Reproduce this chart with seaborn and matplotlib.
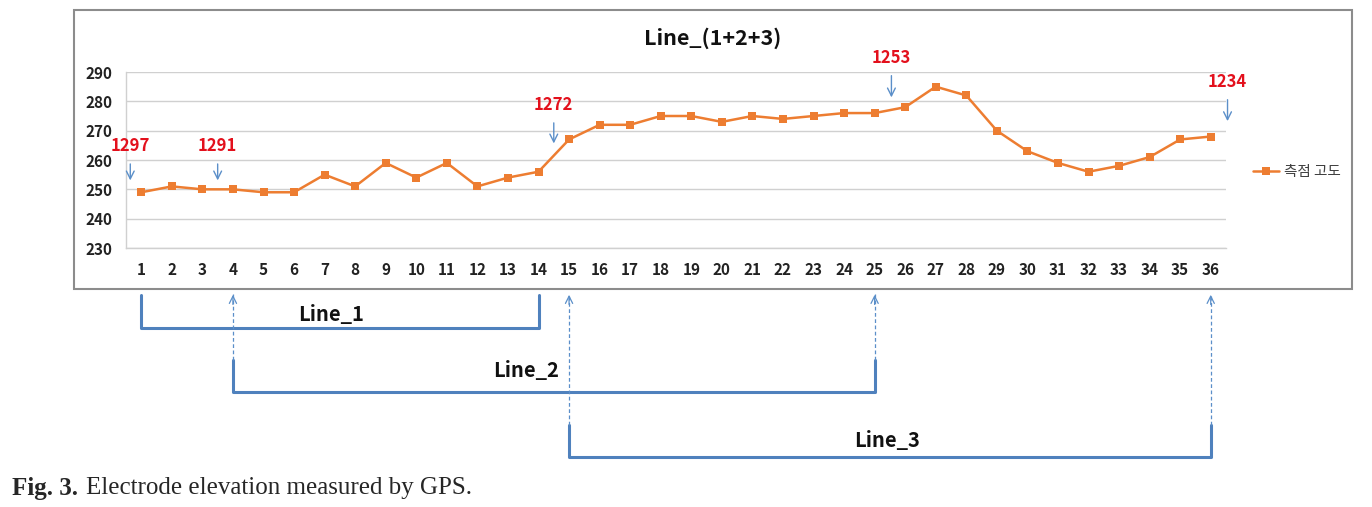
import pandas as pd
import matplotlib.pyplot as plt
import matplotlib.transforms as mtransforms
from matplotlib.patches import Rectangle
import seaborn as sns

# station number and measured elevation (m)
stations = list(range(1, 37))
elevation = [249, 251, 250, 250, 249, 249, 255, 251, 259, 254, 259, 251, 254, 256,
             267, 272, 272, 275, 275, 273, 275, 274, 275, 276, 276, 278, 285, 282,
             270, 263, 259, 256, 258, 261, 267, 268]
y_ticks = [230, 240, 250, 260, 270, 280, 290]

# electrode numbers marked with arrows above the profile
marker_labels = ["1297", "1291", "1272", "1253", "1234"]
marker_x = [0.64, 3.5, 14.5, 25.55, 36.55]
marker_text_y = [264.7, 264.7, 278.7, 294.8, 286.6]
marker_arrow_top = [259.6, 259.6, 273.6, 289.7, 281.5]
marker_arrow_bottom = [252.1, 252.1, 264.7, 280.4, 272.3]

# survey lines under the chart (start station, end station)
line_names = ["Line_1", "Line_2", "Line_3"]
line_start = [1, 4, 15]
line_end = [14, 25, 36]
line_label_x = [7.2, 13.6, 25.4]

df = pd.DataFrame({"station": stations, "elevation": elevation})

sns.set_theme(style="white")
plt.rcParams["font.family"] = ["Noto Sans CJK KR", "DejaVu Sans"]

fig = plt.figure(figsize=(13.72, 5.07), dpi=100)
ax = fig.add_axes([126 / 1372, 1 - 248 / 507, 1100 / 1372, 176 / 507])

orange = "#ed7d31"
blue = "#4f81bd"
arrow_blue = "#5b8fc9"

sns.lineplot(data=df, x="station", y="elevation", marker="s", markersize=6,
             markeredgewidth=0, color=orange, linewidth=1.8, label="측점 고도", ax=ax)

ax.set_xlim(0.5, 36.5)
ax.set_ylim(230, 290)
ax.set_xticks(stations)
ax.set_yticks(y_ticks)
ax.tick_params(length=0, labelsize=11, colors="#222222")
ax.tick_params(axis="x", pad=10)
ax.tick_params(axis="y", pad=10)
for lab in ax.get_xticklabels() + ax.get_yticklabels():
    lab.set_fontweight("bold")
ax.set_xlabel("")
ax.set_ylabel("")
ax.grid(axis="y", color="#d0d0d0", linewidth=1)
for side in ["top", "right"]:
    ax.spines[side].set_visible(False)
for side in ["left", "bottom"]:
    ax.spines[side].set_color("#d0d0d0")
    ax.spines[side].set_linewidth(1)

# legend on the right
ax.legend(loc="center left", bbox_to_anchor=(1240 / 1372, 1 - 172 / 507),
          bbox_transform=fig.transFigure, frameon=False, fontsize=10.5,
          handlelength=1.8, handletextpad=0.3, labelcolor="#404040")

# red electrode numbers with arrows
for lab, x, ty, a0, a1 in zip(marker_labels, marker_x, marker_text_y,
                              marker_arrow_top, marker_arrow_bottom):
    ax.text(x, ty, lab, color="#e3101c", fontsize=12, fontweight="bold",
            ha="center", va="center", clip_on=False)
    ax.annotate("", xy=(x, a1), xytext=(x, a0),
                arrowprops=dict(arrowstyle="->", color=arrow_blue, lw=1,
                                mutation_scale=14), annotation_clip=False)

# title and chart frame
fig.text(713 / 1372, 1 - 38 / 507, "Line_(1+2+3)", ha="center", va="center",
         fontsize=15.5, fontweight="bold", color="#111111")
fig.patches.append(Rectangle((74 / 1372, 1 - 289 / 507), 1278 / 1372, 279 / 507,
                             transform=fig.transFigure, fill=False,
                             edgecolor="#8c8c8c", linewidth=1.5))

# survey line brackets below the chart
blend = mtransforms.blended_transform_factory(ax.transData, fig.transFigure)
bracket_top = [0.418, 0.290, 0.162]
bracket_bottom = [0.353, 0.227, 0.099]
label_y = [0.379, 0.270, 0.132]
arrow_tip = 0.424


def up_arrow(x, y0):
    # thin dashed guide from a bracket end back up to the chart
    ax.plot([x, x], [y0, arrow_tip - 0.004], transform=blend, color=arrow_blue,
            linewidth=0.9, linestyle=(0, (3, 2)), clip_on=False)
    ax.annotate("", xy=(x, arrow_tip), xycoords=blend,
                xytext=(x, arrow_tip - 0.03), textcoords=blend,
                arrowprops=dict(arrowstyle="->", color=arrow_blue, lw=0.9,
                                mutation_scale=13), annotation_clip=False)


for i, name in enumerate(line_names):
    s, e = line_start[i], line_end[i]
    ax.plot([s, s, e, e], [bracket_top[i], bracket_bottom[i], bracket_bottom[i], bracket_top[i]],
            transform=blend, color=blue, linewidth=2.2, solid_joinstyle="round",
            solid_capstyle="round", clip_on=False)
    ax.text(line_label_x[i], label_y[i], name, transform=blend, fontsize=14.5,
            fontweight="bold", ha="center", va="center", color="#111111")

up_arrow(line_start[1], bracket_top[1])
up_arrow(line_end[1], bracket_top[1])
up_arrow(line_start[2], bracket_top[2])
up_arrow(line_end[2], bracket_top[2])

# caption
cap_y = 1 - 488 / 507
t1 = fig.text(12 / 1372, cap_y, "Fig. 3.", family="Liberation Serif",
              fontweight="bold", fontsize=18, va="center", ha="left")
fig.canvas.draw()
x_end = t1.get_window_extent().x1 / fig.bbox.width
fig.text(x_end + 8 / 1372, cap_y, "Electrode elevation measured by GPS.",
         family="Liberation Serif", fontsize=18, va="center", ha="left")

fig.savefig("out.png", dpi=100)
